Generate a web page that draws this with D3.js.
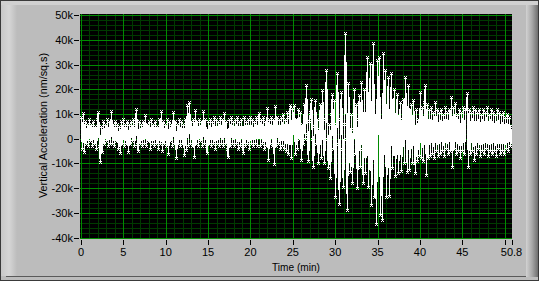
<!DOCTYPE html>
<html><head><meta charset="utf-8">
<script src="https://d3js.org/d3.v7.min.js"></script>
<style>
html,body{margin:0;padding:0;background:#bcbcbc;overflow:hidden}
svg{display:block}
text{font-family:"Liberation Sans",Arial,sans-serif;fill:#000}
</style></head><body>
<script>
// Vertical acceleration samples (k nm/sq.s), evenly spaced from 0 to 50.8 min
const accel = [
 9,-4,10.4,-5.4,7,-2,6,-3,8,-1,
 6,-3,7,-2,5,-4,8,10.8,-3,-9.5,
 5,-5.4,7,-2,6,-1,8,-3,7,-2,
 11.2,-2,6,-3,7,-1,6,-4,5,-5.8,
 7,-2,8,-3,6,-2,7,-5.4,6,-2,
 7,-1,8,-3,6,12,-2,-5,7,-2,
 6,-3,7,-2,9.6,-3,6,-1,7,-4,
 8,-2,6,-3,7,-2,5,-4,8,-2,
 11.2,-5,7,-2,6,-3,8,-6,7,-1,
 6,-3,10.8,-2,7,-7.9,6,-2,8,-3,
 7,-2,6,-6.6,8,-4.6,13.6,-3,14.8,-2,
 7,-3,8,-7.5,11.6,-2,7,-3,8,-1,
 7,-3,11.2,-2,8,-3,-5.8,7,-2,8,
 -3,7,-2,9,-4,8,-2,7,-3,9,
 -2,8,-3,10.4,-2,7,-4,-7.5,8,-3,
 9,-2,7,-3,8,-2,9,-4,7,-3,
 8,-2,-5.8,9,-3,7,-2,8,-4,9,
 -2,8,-3,7,-2,9,-3,8,10.4,-3,
 8,-2,9,-4,7,-3,12.4,-8.7,8,-2,
 9,-3,8,-10.3,13.2,-3,9,-2,8,-4,
 9,-3,10,-4,8,-5,11,-6,9,13.6,
 -7.9,12.4,2,13.6,-6,8,-4,12,0,11,
 -8.7,6,-2,14,0,21.7,2,-9,7,11,
 16,0,-11.5,5,15.6,-2,8,-9.9,4,14,
 -8,19.7,2,-10,8,27.8,0,-12,6,-16,
 10,18,-4,15.6,-23.7,6,26.6,-2,-26.5,8,
 18.9,-4,-19.6,6,42.8,0,-29,22.5,2,-13.5,
 10,-18,4,20,-6,14,-20,8,17.7,-11.5,
 23,-4,-18,20,-14,8,33,-19.6,6,30.7,
 -27,4,38.7,-23.7,10,-34.6,31.9,2,33,-31,
 8,-33,34.7,-6,28,-23.7,10,25,-23,4,
 26.6,-12,6,20,-15,10,18,-14,4,15,
 -13,8,16,-10,25,2,-13.5,21.7,-12.7,6,
 14,-10,15.6,0,-14,12,-9,8,-7,19,
 -8,13,-9,15,21.7,-14.8,14,-8,12,-7,
 13,-6,11,-8,14.8,-5,12,-7,11,-6,
 12,-5,10,-7,13,-4,11,-6,12,-5,
 16.9,-11.5,13,-4,14.4,-6,10,-5,12,-8,
 11,-5,13,-6,12,12,18.5,-11.5,12,-6,
 11,-5,13,-8.7,12,-6,11,-4,12,-7,
 10,-5,12,-6,11,-4,13,-7,10,-5,
 12,-6,11,-5,10,-7,12,-4,11,-6,
 10,-5,11,-6,9,-4,10,-5,9,-3,
 5
];
const timeStart = 0, timeEnd = 50.8;
const xTicks = [0,5,10,15,20,25,30,35,40,45,50,50.8];
const xTickLabels = ["0","5","10","15","20","25","30","35","40","45","","50.8"];
const yTicks = [50,40,30,20,10,0,-10,-20,-30,-40];
const yTickLabels = ["50k","40k","30k","20k","10k","0","-10k","-20k","-30k","-40k"];
const xMinor = d3.range(0,51,1);
const yMinor = d3.range(-40,51,2);
const xMajor = [0,5,10,15,20,25,30,35,40,45,50];
const yMajor = [50,40,30,20,10,0,-10,-20,-30,-40];

const W = 539, H = 281;
const svg = d3.select("body").append("svg").attr("width",W).attr("height",H);
const defs = svg.append("defs");
const gR = defs.append("linearGradient").attr("id","gr");
gR.append("stop").attr("offset","0").attr("stop-color","#d2d2d2");
gR.append("stop").attr("offset","0.5").attr("stop-color","#a8a8a8");
gR.append("stop").attr("offset","1").attr("stop-color","#6e6e6e");
const gL = defs.append("linearGradient").attr("id","gl");
gL.append("stop").attr("offset","0").attr("stop-color","#c8c8c8");
gL.append("stop").attr("offset","0.5").attr("stop-color","#d6d6d6");
gL.append("stop").attr("offset","1").attr("stop-color","#bcbcbc");

// frame
svg.append("rect").attr("x",0).attr("y",0).attr("width",W).attr("height",H).attr("fill","#bcbcbc");
svg.append("rect").attr("x",1).attr("y",1).attr("width",W-2).attr("height",4).attr("fill","#d0d0d0");
svg.append("rect").attr("x",1).attr("y",5).attr("width",16).attr("height",271).attr("fill","url(#gl)");
svg.append("rect").attr("x",526).attr("y",5).attr("width",12).attr("height",272).attr("fill","url(#gr)");
svg.append("rect").attr("x",6).attr("y",276).attr("width",520).attr("height",1).attr("fill","#5a5a5a");
svg.append("rect").attr("x",0.5).attr("y",0.5).attr("width",W-1).attr("height",H-1)
  .attr("fill","none").attr("stroke","#3a3a3a").attr("shape-rendering","crispEdges");

const x = d3.scaleLinear().domain([timeStart,timeEnd]).range([81,511.5]);
const y = d3.scaleLinear().domain([-40,50]).range([237.5,15.3]);

// plot area
svg.append("rect").attr("x",80).attr("y",14).attr("width",432).attr("height",225).attr("fill","#000");
const grid = svg.append("g").attr("shape-rendering","crispEdges");
grid.selectAll(".vm").data(xMinor).join("line")
  .attr("x1",d=>Math.round(x(d))+0.5).attr("x2",d=>Math.round(x(d))+0.5)
  .attr("y1",14).attr("y2",239).attr("stroke","#003a00");
grid.selectAll(".hm").data(yMinor).join("line")
  .attr("y1",d=>Math.round(y(d))+0.5).attr("y2",d=>Math.round(y(d))+0.5)
  .attr("x1",80).attr("x2",512).attr("stroke","#003a00");
grid.selectAll(".vM").data(xMajor).join("line")
  .attr("x1",d=>Math.round(x(d))+0.5).attr("x2",d=>Math.round(x(d))+0.5)
  .attr("y1",14).attr("y2",239).attr("stroke","#008a00");
grid.selectAll(".hM").data(yMajor).join("line")
  .attr("y1",d=>Math.round(y(d))+0.5).attr("y2",d=>Math.round(y(d))+0.5)
  .attr("x1",80).attr("x2",512).attr("stroke","#008a00");

// data
const n = accel.length;
const pts = accel.map((v,i)=>({t: timeStart + (timeEnd-timeStart)*i/(n-1), v}));
const clip = defs.append("clipPath").attr("id","pc");
clip.append("rect").attr("x",80).attr("y",14).attr("width",432).attr("height",225);
const plot = svg.append("g").attr("clip-path","url(#pc)");
plot.append("path").datum(pts)
  .attr("d", d3.line().x(d=>Math.round(x(d.t))+0.5).y(d=>Math.round(y(d.v))+0.5))
  .attr("fill","none").attr("stroke","#fff").attr("stroke-width",1.5)
  .attr("shape-rendering","crispEdges");
plot.selectAll(".mk").data(pts).join("path")
  .attr("transform",d=>`translate(${Math.round(x(d.t))+0.5},${Math.round(y(d.v))+0.5})`)
  .attr("d","M-1.5,-1.5L1.5,1.5M-1.5,1.5L1.5,-1.5")
  .attr("stroke","#fff").attr("stroke-width",1).attr("shape-rendering","crispEdges");

// axes
const xa = svg.append("g").attr("shape-rendering","crispEdges");
xa.selectAll("line").data(xTicks).join("line")
  .attr("x1",d=>Math.round(x(d))+0.5).attr("x2",d=>Math.round(x(d))+0.5)
  .attr("y1",240).attr("y2",245).attr("stroke","#000");
svg.append("g").selectAll("text").data(xTicks).join("text")
  .attr("x",d=>x(d)).attr("y",256).attr("text-anchor","middle")
  .attr("font-size","11px").text((d,i)=>xTickLabels[i]);
const ya = svg.append("g").attr("shape-rendering","crispEdges");
ya.selectAll("line").data(yTicks).join("line")
  .attr("y1",d=>Math.round(y(d))+0.5).attr("y2",d=>Math.round(y(d))+0.5)
  .attr("x1",74).attr("x2",79).attr("stroke","#000");
svg.append("g").selectAll("text").data(yTicks).join("text")
  .attr("x",73).attr("y",d=>y(d)+4).attr("text-anchor","end")
  .attr("font-size","11px").text((d,i)=>yTickLabels[i]);

svg.append("text").attr("x",296).attr("y",271).attr("text-anchor","middle")
  .attr("font-size","11px").attr("textLength",48).attr("lengthAdjust","spacingAndGlyphs").text("Time (min)");
svg.append("text").attr("transform","translate(47,125.5) rotate(-90)").attr("text-anchor","middle")
  .attr("font-size","11px").attr("textLength",145).attr("lengthAdjust","spacingAndGlyphs")
  .text("Vertical Acceleration (nm/sq.s)");
</script>
</body></html>
